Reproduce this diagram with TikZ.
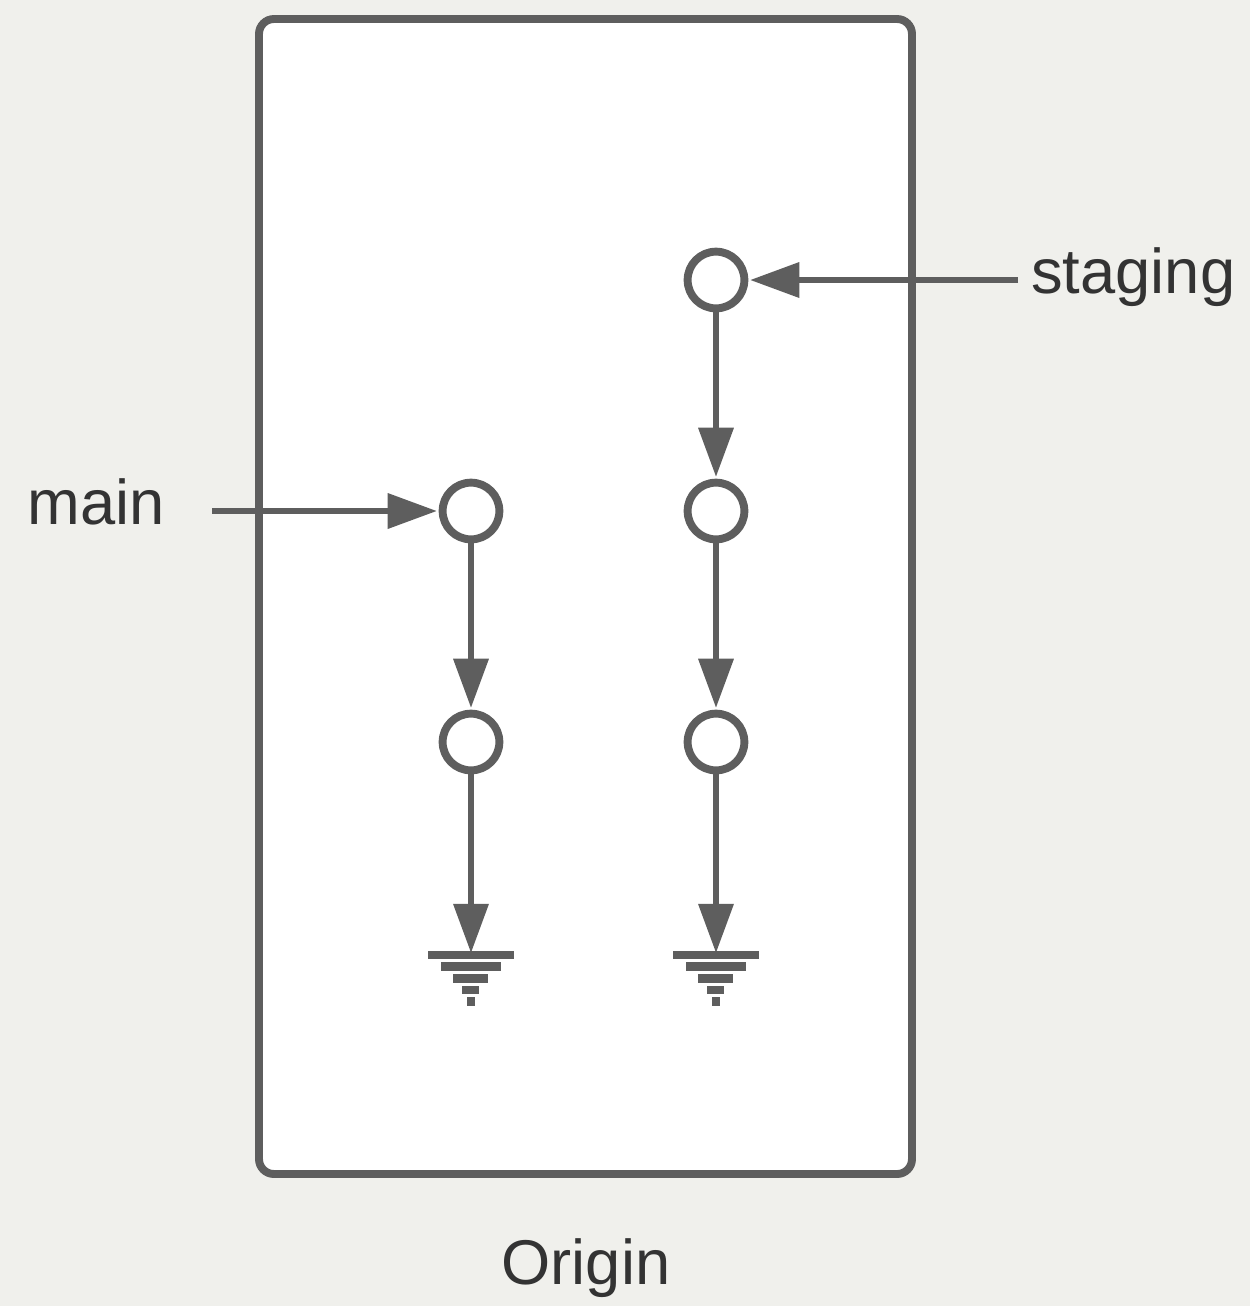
\documentclass[tikz,border=0pt]{standalone}
\usepackage{fontspec}
\setmainfont{Liberation Sans}
\usetikzlibrary{arrows.meta,calc}
\definecolor{bgc}{HTML}{F0F0EC}
\definecolor{linec}{HTML}{5E5E5E}
\definecolor{textc}{HTML}{333333}
\tikzset{
  commit/.style={circle,draw=linec,fill=white,line width=4.5pt,minimum size=32.3pt,inner sep=0pt},
  conn/.style={draw=linec,line width=3.4pt,-{Triangle[length=28pt,width=19.5pt]},shorten >=1pt},
  lbl/.style={text=textc,font=\fontsize{36}{43}\selectfont,inner sep=0pt},
  bar/.style={fill=linec},
}
\begin{document}
\begin{tikzpicture}[x=0.02cm,y=-0.02cm]
\fill[bgc] (0,0) rectangle (1250,1306);
\useasboundingbox (0,0) rectangle (1250,1306);
\draw[linec,fill=white,line width=4.5pt,rounded corners=8.5pt] (259,19) rectangle (912,1174);
% commits
\node[commit] (s1) at (716,280) {};
\node[commit] (s2) at (716,511) {};
\node[commit] (s3) at (716,742) {};
\node[commit] (m1) at (471,511) {};
\node[commit] (m2) at (471,742) {};
\coordinate (gm) at (471,953);
\coordinate (gs) at (716,953);
\coordinate (mainstart) at (212,511);
\coordinate (stagingstart) at (1018,280);
% labels
\node[lbl,anchor=base west] (mainlbl) at (27,524) {main};
\node[lbl,anchor=base west] (staginglbl) at (1031,293) {staging};
\node[lbl,anchor=base] (originlbl) at (586,1284) {Origin};
% connectors
\draw[conn] (mainstart) -- (m1);
\draw[conn] (stagingstart) -- (s1);
\draw[conn] (s1) -- (s2);
\draw[conn] (s2) -- (s3);
\draw[conn] (m1) -- (m2);
\draw[conn,shorten >=0pt] (m2) -- (gm);
\draw[conn,shorten >=0pt] (s3) -- (gs);
% ground symbols
\foreach \g in {gm,gs}{
  \fill[bar] ([shift={(-43.5,-2)}]\g) rectangle ([shift={(42.5,6)}]\g);
  \fill[bar] ([shift={(-30.5,9)}]\g) rectangle ([shift={(29.5,18)}]\g);
  \fill[bar] ([shift={(-18,21)}]\g) rectangle ([shift={(17,30)}]\g);
  \fill[bar] ([shift={(-9,33)}]\g) rectangle ([shift={(8,41)}]\g);
  \fill[bar] ([shift={(-4.5,44)}]\g) rectangle ([shift={(3.5,53)}]\g);
}
\end{tikzpicture}
\end{document}
